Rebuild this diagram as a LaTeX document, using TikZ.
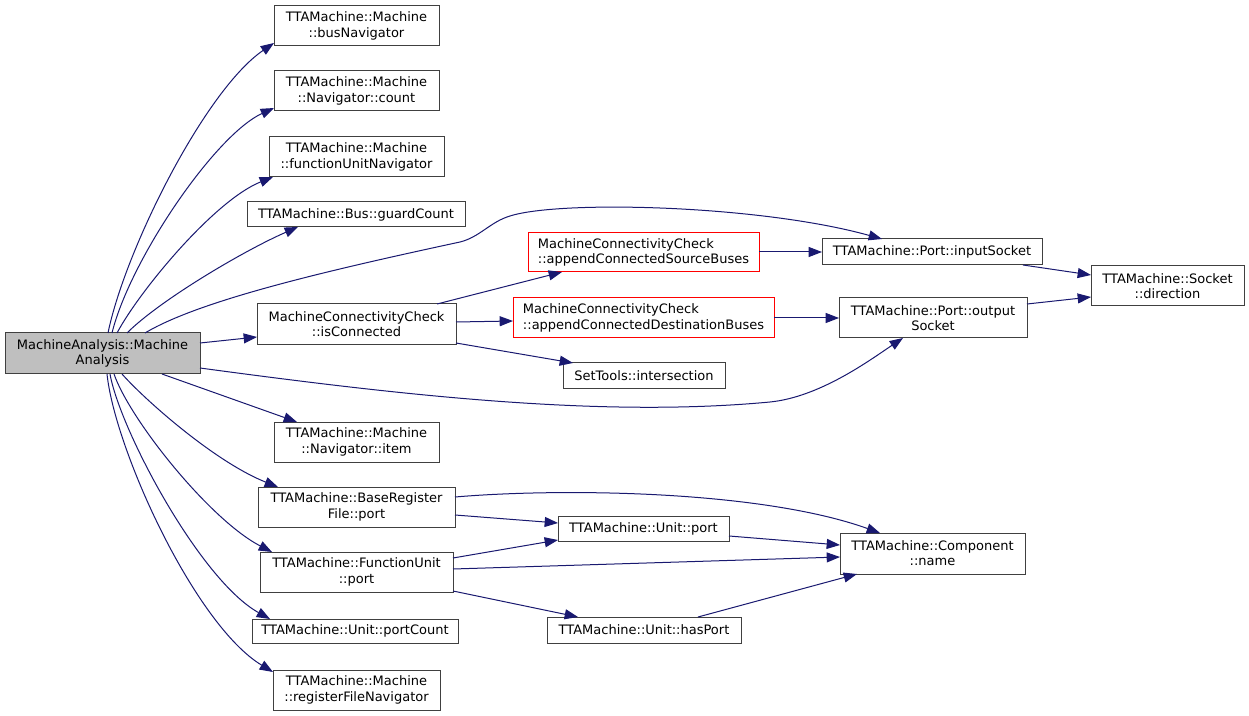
\documentclass[tikz,border=0pt]{standalone}
\usepackage{fontspec}
\setmainfont{DejaVu Sans}
\usetikzlibrary{arrows.meta,calc}
\definecolor{edgeblue}{HTML}{191970}
\definecolor{boxgray}{HTML}{404040}
\definecolor{rootfill}{HTML}{BFBFBF}
\newcommand\mkbox[7][]{\node[nbox,#1,minimum width={(#4-#2)*0.75pt},minimum height={(#5-#3)*0.75pt}] (#6) at ({(#2+#4)/2},{(#3+#5)/2}) {#7};}
\tikzset{
  nbox/.style={draw=boxgray, line width=0.75pt, fill=white, inner sep=0pt, outer sep=0pt, align=center, font=\fontsize{9.75}{11.4}\selectfont},
  conn/.style={draw=edgeblue, line width=0.75pt, -{Triangle[length=10pt,width=7.5pt]}}
}
\begin{document}
\begin{tikzpicture}[x=0.75pt,y=-0.75pt]
\fill[white] (0,0) rectangle (1249,716);
\useasboundingbox (0,0) rectangle (1249,716);
\mkbox[fill=rootfill]{5}{333}{200}{374}{ma}{MachineAnalysis::Machine\\Analysis}
\mkbox{274}{6}{439}{46}{busnav}{TTAMachine::Machine\\::busNavigator}
\mkbox{274}{71}{439}{111}{count}{TTAMachine::Machine\\::Navigator::count}
\mkbox{269}{137}{444}{177}{funav}{TTAMachine::Machine\\::functionUnitNavigator}
\mkbox{247}{202}{465}{227}{guard}{TTAMachine::Bus::guardCount}
\mkbox{257}{304}{456}{345}{isconn}{MachineConnectivityCheck\\::isConnected}
\mkbox{274}{422}{439}{462}{item}{TTAMachine::Machine\\::Navigator::item}
\mkbox{258}{487}{455}{527}{brf}{TTAMachine::BaseRegister\\File::port}
\mkbox{260}{552}{453}{592}{fu}{TTAMachine::FunctionUnit\\::port}
\mkbox{252}{619}{458}{643}{portcount}{TTAMachine::Unit::portCount}
\mkbox{273}{670}{440}{710}{rfnav}{TTAMachine::Machine\\::registerFileNavigator}
\mkbox[draw=red,align=left]{528}{233}{759}{272}{src}{MachineConnectivityCheck\\::appendConnectedSourceBuses}
\mkbox[draw=red,align=left]{513}{298}{774}{338}{dst}{MachineConnectivityCheck\\::appendConnectedDestinationBuses}
\mkbox{563}{363}{725}{389}{inter}{SetTools::intersection}
\mkbox{822}{239}{1042}{265}{insock}{TTAMachine::Port::inputSocket}
\mkbox{839}{298}{1027}{338}{outsock}{TTAMachine::Port::output\\Socket}
\mkbox{1091}{266}{1244}{306}{dir}{TTAMachine::Socket\\::direction}
\mkbox{558}{516}{729}{541}{uport}{TTAMachine::Unit::port}
\mkbox{840}{533}{1025}{574}{compname}{TTAMachine::Component\\::name}
\mkbox{547}{617}{741}{643}{hasport}{TTAMachine::Unit::hasPort}
% edges from root
\draw[conn] ($(ma.north west)+(103,0)$) .. controls (125,250) and (205,90) .. ($(busnav.south west)+(0,-3)$);
\draw[conn] ($(ma.north west)+(107,0)$) .. controls (130,260) and (215,135) .. ($(count.south west)+(0,-3)$);
\draw[conn] ($(ma.north west)+(112,0)$) .. controls (140,290) and (215,200) .. ($(funav.south west)+(4,0)$);
\draw[conn] ($(ma.north west)+(122,0)$) .. controls (160,300) and (245,250) .. ($(guard.south west)+(51,0)$);
\draw[conn] ($(ma.north west)+(140,0)$) .. controls (200,300) and (330,270) .. (460,242) .. controls (480,237) and (490,222) .. (510,216) .. controls (560,200) and (760,205) .. ($(insock.north west)+(60,0)$);
\draw[conn] ($(ma.north east)+(0,10)$) -- ($(isconn.north west)+(0,33)$);
\draw[conn] ($(ma.north east)+(0,35)$) .. controls (400,395) and (600,418) .. (770,402) .. controls (820,397) and (870,360) .. ($(outsock.south west)+(64,0)$);
\draw[conn] ($(ma.south west)+(157,0)$) -- ($(item.north west)+(23,0)$);
\draw[conn] ($(ma.south west)+(117,0)$) .. controls (145,400) and (215,462) .. ($(brf.north west)+(20,0)$);
\draw[conn] ($(ma.south west)+(109,0)$) .. controls (130,420) and (210,520) .. ($(fu.north west)+(12,0)$);
\draw[conn] ($(ma.south west)+(105,0)$) .. controls (120,430) and (200,580) .. ($(portcount.north west)+(18,0)$);
\draw[conn] ($(ma.south west)+(102,0)$) .. controls (115,450) and (195,625) .. ($(rfnav.north west)+(0,2)$);
% other edges
\draw[conn] ($(isconn.north west)+(180,0)$) -- ($(src.south west)+(34,0)$);
\draw[conn] ($(isconn.north east)+(0,18)$) -- ($(dst.north west)+(0,23)$);
\draw[conn] ($(isconn.north east)+(0,39)$) -- ($(inter.north west)+(10,0)$);
\draw[conn] ($(src.north east)+(0,19)$) -- ($(insock.north west)+(0,13)$);
\draw[conn] ($(dst.north east)+(0,20)$) -- ($(outsock.north west)+(0,20)$);
\draw[conn] ($(insock.south west)+(201,0)$) -- ($(dir.north west)+(0,9)$);
\draw[conn] ($(outsock.north east)+(0,6)$) -- ($(dir.north west)+(0,31)$);
\draw[conn] ($(brf.north east)+(0,10)$) .. controls (560,488) and (760,490) .. ($(compname.north west)+(40,0)$);
\draw[conn] ($(brf.north east)+(0,28)$) -- ($(uport.north west)+(0,7)$);
\draw[conn] ($(fu.north east)+(0,6)$) -- ($(uport.south west)+(0,-1)$);
\draw[conn] ($(fu.north east)+(0,17)$) -- ($(compname.north west)+(0,24)$);
\draw[conn] ($(fu.south east)+(0,-1)$) -- ($(hasport.north west)+(31,0)$);
\draw[conn] ($(uport.north east)+(0,20)$) -- ($(compname.north west)+(0,12)$);
\draw[conn] ($(hasport.north west)+(151,0)$) -- ($(compname.south west)+(17,0)$);
\end{tikzpicture}
\end{document}
